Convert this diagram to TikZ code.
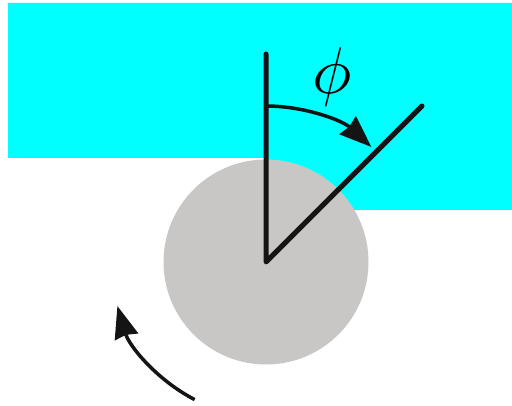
\documentclass[tikz,border=0pt]{standalone}
\usetikzlibrary{arrows.meta}
\definecolor{water}{RGB}{0,255,255}
\definecolor{disc}{RGB}{200,199,198}
\definecolor{ink}{RGB}{20,20,20}
\begin{document}
\begin{tikzpicture}[x=1pt,y=1pt,
  ray/.style={draw=ink,line width=5pt,line cap=round,line join=round},
  turn/.style={draw=ink,line width=3.5pt,-{Stealth[length=32pt,width=24pt,inset=2pt]}}]
\useasboundingbox (0,0) rectangle (512,405);
\fill[water] (8,402) -- (512,402) -- (512,195) -- (266,195) -- (266,247) -- (8,247) -- cycle;
\coordinate (O) at (266,143);
\fill[disc] (O) circle (102.5);
\coordinate (V) at (266,351);
\coordinate (D) at (422,299);
\draw[ray] (V) -- (O) -- (D);
\draw[turn] (O) ++(90:156) arc[start angle=90,end angle=47.5,radius=156];
\draw[turn] (O) ++(242.6:155) arc[start angle=242.6,end angle=196.5,radius=155];
\node[inner sep=0pt,scale=6.6] (phi) at (332,327.5) {$\phi$};
\end{tikzpicture}
\end{document}
